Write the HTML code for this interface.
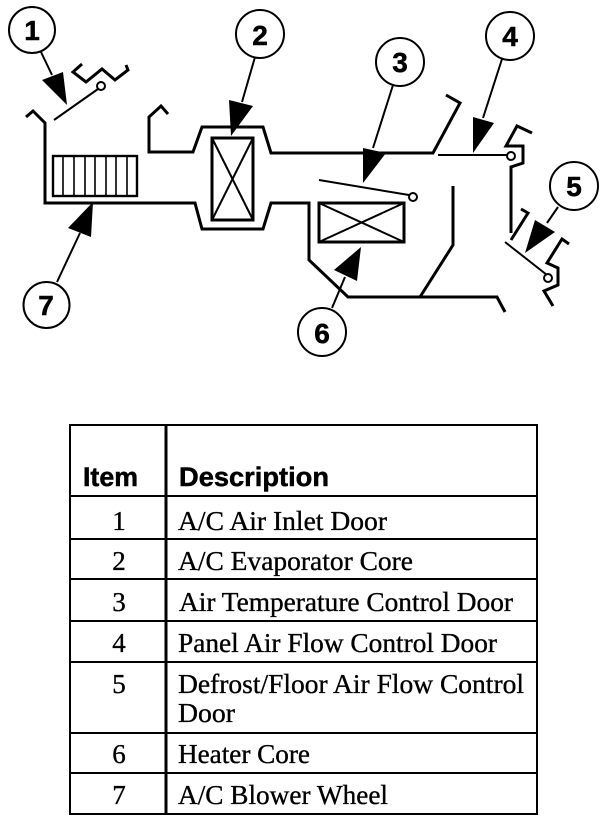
<!DOCTYPE html>
<html><head><meta charset="utf-8"><style>
html,body{margin:0;padding:0;background:#fff;width:608px;height:824px;overflow:hidden}
svg{display:block}
.b{font-family:"Liberation Sans",sans-serif;font-weight:bold;fill:#000}
.s{font-family:"Liberation Serif",serif;fill:#000;font-size:27px;stroke:#000;stroke-width:.35}
.n{text-anchor:middle;font-size:27px}
.d{text-anchor:middle;font-size:28px;stroke:#000;stroke-width:.5}
.h{stroke:#000;stroke-width:.5}
</style></head><body>
<svg width="608" height="824" viewBox="0 0 608 824" xmlns="http://www.w3.org/2000/svg">
<g fill="none" stroke="#000" stroke-width="2">
<circle cx="32" cy="30" r="23"/><circle cx="260" cy="34" r="24"/><circle cx="400" cy="62" r="24"/><circle cx="510" cy="36" r="24"/><circle cx="574" cy="186" r="24"/><circle cx="322" cy="332" r="24"/><circle cx="46.5" cy="305" r="23"/>
<path d="M41 52L52 75M255 57L242 102M393 85L373 148M502 59L483 118M558 207L547 223M332 308L345 277M57 282L80 233"/>
<path d="M54 120L98 89M319 180L409 195M438 155L507 155M505 242L547 275"/>
<circle cx="101" cy="86" r="4"/><circle cx="413" cy="197" r="4"/><circle cx="511" cy="156" r="4"/><circle cx="548" cy="278" r="4"/>
<g stroke-width="3">
<path d="M82 64L73 72L86 82L102 69L115 80L128 70L126 65"/>
<path d="M26 117L33 111L45 123V203H195L202 229H263L271 203H309V260L348 297H497L505 312"/>
<path d="M168 114L161 106L149 117V152H193L202 127H263L271 153H433L460 103L446 95"/>
<path d="M453 186V245L420 297"/>
<path d="M532 133L517 126L506 146H523V163L511 167V233M511 240L528 213L521 209"/>
<path d="M569 244L562 239L547 263L558 268V285L544 291L553 306"/>
<rect x="212" y="138" width="41" height="82"/>
<rect x="319" y="203" width="85" height="39"/>
</g>
<rect x="53" y="156" width="84" height="40" stroke-width="2.4"/>
<path d="M212 138L253 220M253 138L212 220M319 203L404 242M404 203L319 242"/>
<path d="M63 156V196M74 156V196M85 156V196M95 156V196M106 156V196M116 156V196M127 156V196" stroke-width="1.6"/>
</g>
<g fill="#000">
<path d="M42 80L63 72L67 105Z"/><path d="M229 100L253 106L231 136Z"/><path d="M363 148L386 153L363 183Z"/><path d="M473 117L494 123L473 153Z"/><path d="M535 220L555 232L525 253Z"/><path d="M334 270L361 247L357 281Z"/><path d="M68 228L93 202L91 237Z"/>
</g>
<g class="b d">
<text x="32" y="40">1</text><text x="260" y="45">2</text><text x="400" y="72">3</text><text x="510" y="46">4</text><text x="574" y="196">5</text><text x="322" y="343">6</text><text x="46" y="315">7</text>
</g>
<g fill="none" stroke="#000" stroke-width="2">
<rect x="70" y="425" width="467" height="389"/>
<path d="M166 425V814" stroke-width="3"/>
<path d="M70 496H537M70 539H537M70 579H537M70 621H537M70 662H537M70 733H537M70 773H537"/>
</g>
<text class="b h" x="83" y="486" font-size="27" textLength="55" lengthAdjust="spacingAndGlyphs">Item</text>
<text class="b h" x="179" y="486" font-size="27" textLength="150" lengthAdjust="spacingAndGlyphs">Description</text>
<g class="s n">
<text x="119" y="530">1</text><text x="119" y="570">2</text><text x="119" y="611">3</text><text x="119" y="652">4</text><text x="119" y="693">5</text><text x="119" y="763">6</text><text x="119" y="804">7</text>
</g>
<g class="s">
<text x="178" y="530" textLength="209" lengthAdjust="spacingAndGlyphs">A/C Air Inlet Door</text>
<text x="178" y="570" textLength="235" lengthAdjust="spacingAndGlyphs">A/C Evaporator Core</text>
<text x="179" y="611" textLength="334" lengthAdjust="spacingAndGlyphs">Air Temperature Control Door</text>
<text x="178" y="652" textLength="319" lengthAdjust="spacingAndGlyphs">Panel Air Flow Control Door</text>
<text x="178" y="693" textLength="346" lengthAdjust="spacingAndGlyphs">Defrost/Floor Air Flow Control</text>
<text x="178" y="722" textLength="57" lengthAdjust="spacingAndGlyphs">Door</text>
<text x="178" y="763" textLength="132" lengthAdjust="spacingAndGlyphs">Heater Core</text>
<text x="178" y="804" textLength="210" lengthAdjust="spacingAndGlyphs">A/C Blower Wheel</text>
</g>
</svg>
</body></html>
